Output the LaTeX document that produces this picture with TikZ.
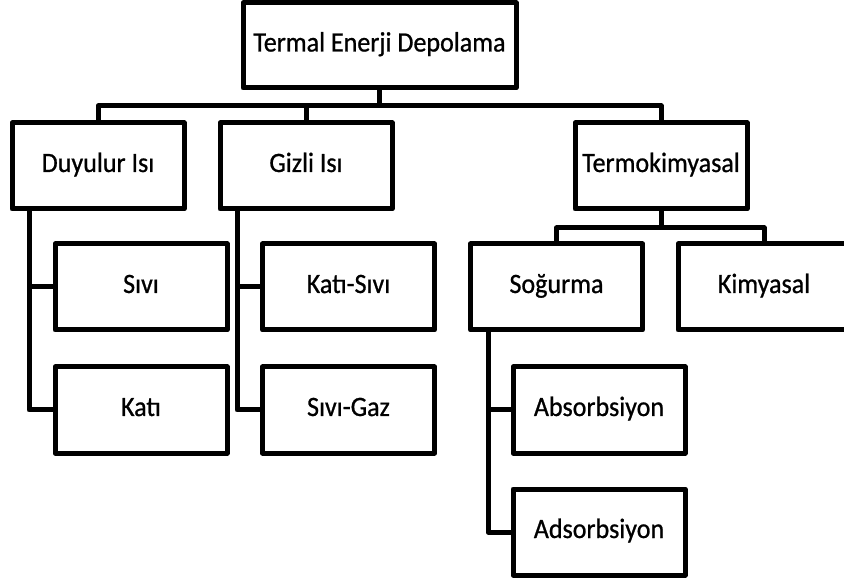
\documentclass[tikz,border=0pt]{standalone}
\usepackage{fontspec}
\setmainfont{Carlito}[FakeStretch=0.93,FakeBold=0.8]
\begin{document}
\begin{tikzpicture}[x=1pt,y=-1pt,
  box/.style={draw=black, line width=5pt, line join=round, fill=white,
    minimum width=172pt, minimum height=86pt, inner sep=0pt, outer sep=0pt,
    text height=18pt, text depth=6pt,
    font=\fontsize{28}{33}\selectfont},
  conn/.style={draw=black, line width=5pt, line join=round}]
\useasboundingbox (0,0) rectangle (844,585);
\begin{scope}
\clip (0,0) rectangle (844,585);
\coordinate (b1) at (379.5,106);
\coordinate (b2) at (661,228);
\coordinate (dv) at (29,209);
\coordinate (gv) at (237,209);
\coordinate (sv) at (488,331);

\node[box, minimum width=273pt, minimum height=85pt] (top) at (379.5,45.5) {Termal Enerji Depolama};
\node[box] (duy) at (98,166) {Duyulur Isı};
\node[box] (giz) at (306,166) {Gizli Isı};
\node[box] (ter) at (661,166) {Termokimyasal};
\node[box] (sivi) at (141,287) {Sıvı};
\node[box] (kati) at (141,410) {Katı};
\node[box] (ks) at (348.5,287) {Katı-Sıvı};
\node[box] (sg) at (348.5,410) {Sıvı-Gaz};
\node[box] (sog) at (556.5,287) {Soğurma};
\node[box] (kim) at (764,287) {Kimyasal};
\node[box] (abs) at (599,410) {Absorbsiyon};
\node[box] (ads) at (599,532) {Adsorbsiyon};

\draw[conn] (top.south) -- (b1);
\draw[conn] (duy.north) |- (b1) -| (ter.north);
\draw[conn] (giz.north) -- (giz.north |- b1);

\draw[conn] (ter.south) -- (b2);
\draw[conn] (sog.north) |- (b2) -| (kim.north);

\draw[conn] (dv) |- (kati.west);
\draw[conn] (dv |- sivi.west) -- (sivi.west);

\draw[conn] (gv) |- (sg.west);
\draw[conn] (gv |- ks.west) -- (ks.west);

\draw[conn] (sv) |- (ads.west);
\draw[conn] (sv |- abs.west) -- (abs.west);
\end{scope}
\end{tikzpicture}
\end{document}
